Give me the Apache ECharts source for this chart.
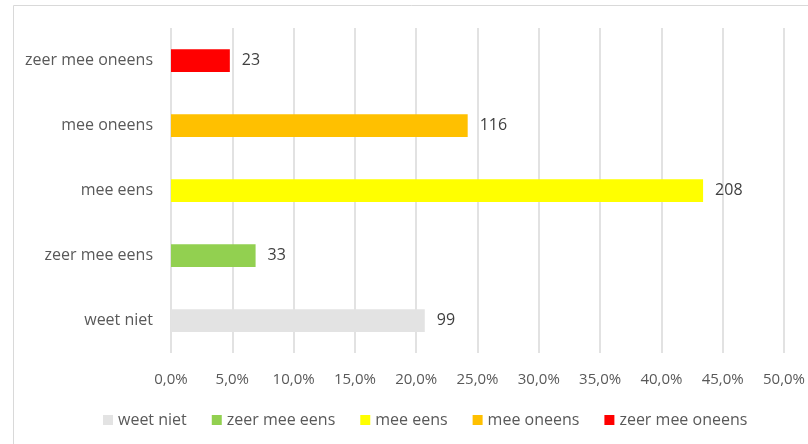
<!DOCTYPE html>
<html>
<head>
<meta charset="utf-8">
<script src="https://cdn.jsdelivr.net/npm/echarts@6/dist/echarts.min.js"></script>
<style>
  html, body { margin: 0; padding: 0; background: #fff; }
  #chart { width: 808px; height: 444px; }
</style>
</head>
<body>
<div id="chart"></div>
<script>
// categories bottom -> top, like the y axis
const categories = ['weet niet', 'zeer mee eens', 'mee eens', 'mee oneens', 'zeer mee oneens'];
const percents = [20.7, 6.9, 43.4, 24.2, 4.8];
const counts = [99, 33, 208, 116, 23];
const colors = ['#E3E3E3', '#92D050', '#FFFF00', '#FFC000', '#FF0000'];
const xTicks = [0, 5, 10, 15, 20, 25, 30, 35, 40, 45, 50];

const font = '"Open Sans", Lato, sans-serif';

// one series per answer, only filled on its own row
const series = categories.map((name, i) => ({
  name: name,
  type: 'bar',
  stack: 'all',
  barWidth: '35%',
  itemStyle: { color: colors[i] },
  label: {
    show: true,
    position: 'right',
    distance: 12,
    color: '#404040',
    fontFamily: font,
    fontSize: 16,
    formatter: () => String(counts[i])
  },
  data: categories.map((c, j) => (j === i ? percents[i] : '-'))
}));

const chart = echarts.init(document.getElementById('chart'));
chart.setOption({
  animation: false,
  graphic: [{
    type: 'rect',
    shape: { x: 13.5, y: 5.5, width: 900, height: 600 },
    style: { fill: 'none', stroke: '#D9D9D9', lineWidth: 1 },
    silent: true,
    z: -1
  }],
  legend: {
    data: categories,
    left: 98,
    top: 407,
    itemWidth: 10,
    itemHeight: 10,
    itemGap: 25,
    icon: 'rect',
    textStyle: { color: '#595959', fontFamily: font, fontSize: 16 }
  },
  grid: { left: 171, right: 24, top: 28, bottom: 91, containLabel: false },
  xAxis: {
    type: 'value',
    min: xTicks[0],
    max: xTicks[xTicks.length - 1],
    interval: 5,
    axisLine: { show: false },
    axisTick: { show: false },
    splitLine: { lineStyle: { color: '#D9D9D9', width: 1.5 } },
    axisLabel: {
      margin: 19,
      color: '#595959',
      fontFamily: font,
      fontSize: 15,
      formatter: v => v.toFixed(1).replace('.', ',') + '%'
    }
  },
  yAxis: {
    type: 'category',
    data: categories,
    axisLine: { show: false },
    axisTick: { show: false },
    axisLabel: { margin: 18, color: '#595959', fontFamily: font, fontSize: 16 }
  },
  series: series
});
</script>
</body>
</html>
